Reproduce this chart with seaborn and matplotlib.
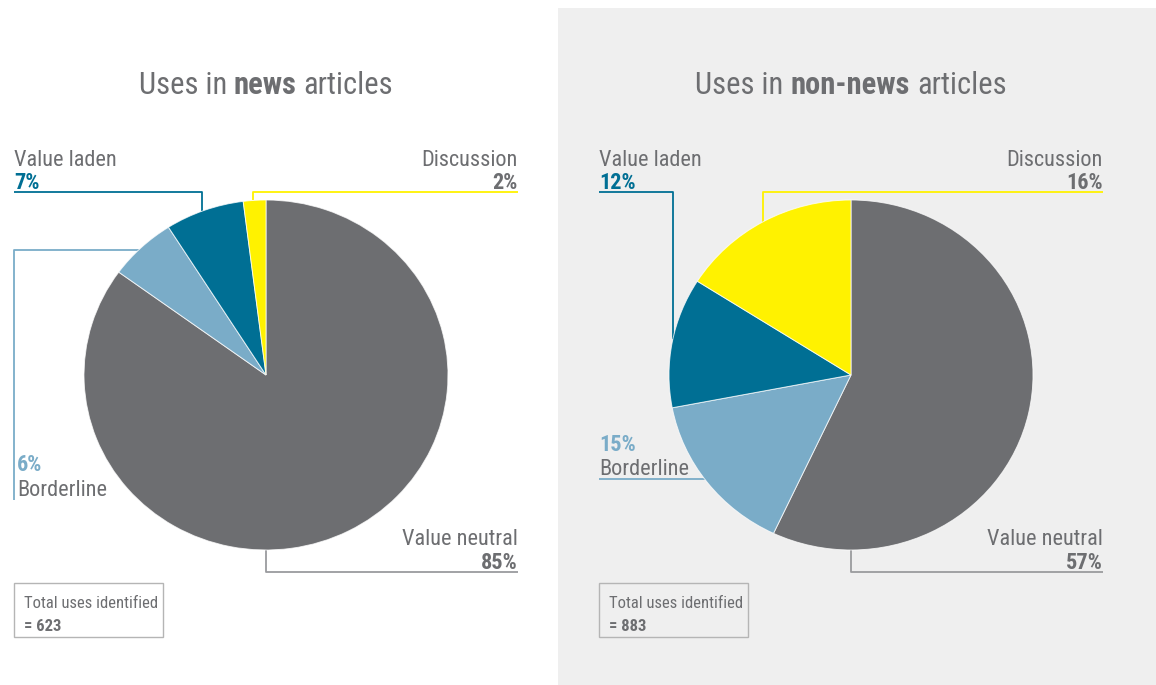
import matplotlib
matplotlib.use("Agg")
import matplotlib.pyplot as plt
from matplotlib.patches import Rectangle
import numpy as np
import seaborn as sns

# ---- data -------------------------------------------------------------
categories = ["Value neutral", "Borderline", "Value laden", "Discussion"]
news_pct = [85, 6, 7, 2]
nonnews_pct = [57, 15, 12, 16]
panel_bold_words = ["news", "non-news"]
totals = [623, 883]

# ---- style ------------------------------------------------------------
sns.set_theme(style="white")
plt.rcParams["font.family"] = ["Roboto Condensed", "DejaVu Sans"]
plt.rcParams["font.stretch"] = "condensed"

palette = sns.color_palette(["#6d6e71", "#7aacc8", "#006f94", "#fff200"])
TEXT = "#6d6e71"
colors = dict(zip(categories, palette))

W, H = 1156, 685
fig = plt.figure(figsize=(W / 100, H / 100), dpi=100)
fig.patch.set_facecolor("white")

# overlay axes in pixel coordinates (y grows downward)
ov = fig.add_axes([0, 0, 1, 1], zorder=0)
ov.set_xlim(0, W)
ov.set_ylim(H, 0)
ov.axis("off")

# shaded background behind the second panel
ov.add_patch(Rectangle((558, 8), W - 558, H - 8, facecolor="#efefef",
                       edgecolor="none", zorder=0))

RX, RY = 182, 175          # pie radii in pixels
CY = 375                   # pie centre (y)
PANEL_DX = 585             # horizontal offset of the second panel

LABEL_FS = 16
TITLE_FS = 22
BOX_FS = 12


def edge_y(cx, x, top=True):
    nx = (x - cx) / RX
    dy = RY * np.sqrt(max(0.0, 1 - nx * nx))
    return CY - dy if top else CY + dy


def edge_x(cx, y, left=True):
    ny = (y - CY) / RY
    dx = RX * np.sqrt(max(0.0, 1 - ny * ny))
    return cx - dx if left else cx + dx


def line(xs, ys, color, lw=1.3):
    ov.plot(xs, ys, color=color, lw=lw, solid_capstyle="butt", zorder=2)


def draw_title(cx, y, bold_word):
    parts = [("Uses in", "normal"), (bold_word, "bold"), ("articles", "normal")]
    texts = []
    gap = 5
    for i, (s, w) in enumerate(parts):
        if i == 0:
            t = ov.text(0, y, s, fontsize=TITLE_FS, fontweight=w, color=TEXT,
                        va="baseline", ha="left", zorder=3)
        else:
            t = ov.annotate(s, xy=(1, 0), xycoords=texts[-1],
                            xytext=(gap, 0), textcoords="offset points",
                            fontsize=TITLE_FS, fontweight=w, color=TEXT,
                            va="bottom", ha="left", zorder=3)
        texts.append(t)
    fig.canvas.draw()
    r = fig.canvas.get_renderer()
    x0 = texts[0].get_window_extent(r).x0
    x1 = texts[-1].get_window_extent(r).x1
    texts[0].set_x(cx - (x1 - x0) / 2)


def draw_panel(k, values):
    dx = PANEL_DX * k
    cx = 266 + dx
    lx = 14 + dx
    rx = 518 + dx

    # pie
    pax = fig.add_axes([(cx - RX) / W, (H - CY - RY) / H, 2 * RX / W, 2 * RY / H],
                       zorder=1)
    pax.pie(values, colors=[colors[c] for c in categories], startangle=90,
            counterclock=False, radius=1.0,
            wedgeprops=dict(edgecolor=(1, 1, 1, 0.75), linewidth=0.7))
    pax.set_aspect("auto")
    pax.set_xlim(-1, 1)
    pax.set_ylim(-1, 1)
    pax.patch.set_alpha(0)
    pax.axis("off")

    draw_title(cx, 94, panel_bold_words[k])
    pct = dict(zip(categories, values))

    # Value laden (top left)
    ov.text(lx, 166, "Value laden", fontsize=LABEL_FS, color=TEXT, va="baseline", zorder=3)
    ov.text(lx, 189, f"{pct['Value laden']}%", fontsize=LABEL_FS, fontweight="bold",
            color=colors["Value laden"], va="baseline", zorder=3)
    vx = 202 if k == 0 else 673
    line([lx, vx, vx], [192, 192, edge_y(cx, vx)], colors["Value laden"])

    # Discussion (top right)
    ov.text(rx, 166, "Discussion", fontsize=LABEL_FS, color=TEXT, ha="right",
            va="baseline", zorder=3)
    ov.text(rx, 189, f"{pct['Discussion']}%", fontsize=LABEL_FS, fontweight="bold",
            color=TEXT, ha="right", va="baseline", zorder=3)
    dxl = 253 if k == 0 else 763
    line([rx, dxl, dxl], [192, 192, edge_y(cx, dxl)], colors["Discussion"])

    # Borderline (left)
    if k == 0:
        ov.text(lx + 3, 471, f"{pct['Borderline']}%", fontsize=LABEL_FS, fontweight="bold",
                color=colors["Borderline"], va="baseline", zorder=3)
        ov.text(lx + 3, 496, "Borderline", fontsize=LABEL_FS, color=TEXT,
                va="baseline", zorder=3)
        by = 250
        line([edge_x(cx, by), lx, lx], [by, by, 500], colors["Borderline"])
    else:
        ov.text(lx, 451, f"{pct['Borderline']}%", fontsize=LABEL_FS, fontweight="bold",
                color=colors["Borderline"], va="baseline", zorder=3)
        ov.text(lx, 475, "Borderline", fontsize=LABEL_FS, color=TEXT,
                va="baseline", zorder=3)
        by = 479
        line([lx, edge_x(cx, by)], [by, by], colors["Borderline"])

    # Value neutral (bottom right)
    ov.text(rx, 545, "Value neutral", fontsize=LABEL_FS, color=TEXT, ha="right",
            va="baseline", zorder=3)
    ov.text(rx, 569, f"{pct['Value neutral']}%", fontsize=LABEL_FS, fontweight="bold",
            color=TEXT, ha="right", va="baseline", zorder=3)
    line([cx, cx, rx], [CY + RY, 572, 572], "#9a9b9e")

    # total box
    ov.add_patch(Rectangle((lx, 583), 149, 54, facecolor="none",
                           edgecolor="#b5b5b5", lw=1.0, zorder=3))
    ov.text(lx + 10, 608, "Total uses identified", fontsize=BOX_FS, color=TEXT,
            va="baseline", zorder=3)
    ov.text(lx + 10, 631, f"= {totals[k]}", fontsize=BOX_FS, fontweight="bold",
            color=TEXT, va="baseline", zorder=3)


draw_panel(0, news_pct)
draw_panel(1, nonnews_pct)

fig.savefig("out.png", dpi=100)
